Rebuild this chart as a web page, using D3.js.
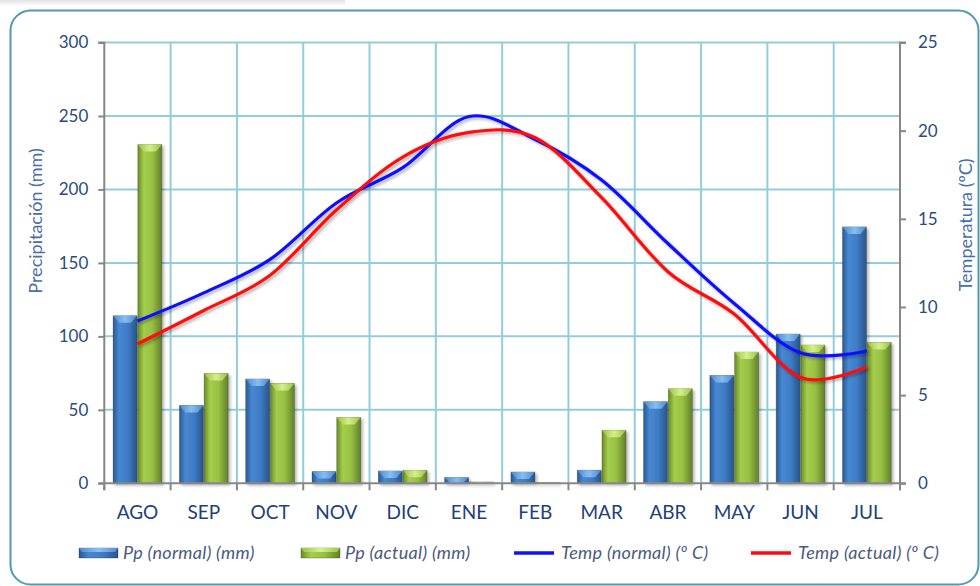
<!DOCTYPE html>
<html>
<head>
<meta charset="utf-8">
<script src="https://cdn.jsdelivr.net/npm/d3@7/dist/d3.min.js"></script>
<style>
  html, body { margin: 0; padding: 0; background: #ffffff; }
  svg { display: block; }
  text { font-family: Lato, "Open Sans", "Liberation Sans", sans-serif; }
</style>
</head>
<body>
<svg id="chart" width="980" height="586"></svg>
<script>
// ---- data ----
const months = ["AGO","SEP","OCT","NOV","DIC","ENE","FEB","MAR","ABR","MAY","JUN","JUL"];
const ppNormal = [114, 53, 71, 8, 8.4, 3.9, 7.7, 8.9, 55.5, 73.4, 101.6, 174.5];
const ppActual = [230.5, 74.8, 68, 44.8, 8.9, 0.9, 0.4, 36.1, 64.3, 89.3, 94.1, 95.9];
const tempNormal = [9.2, 10.8, 12.7, 15.9, 17.9, 20.8, 19.5, 17.2, 13.6, 10.2, 7.4, 7.5];
const tempActual = [7.9, 9.8, 11.8, 15.5, 18.5, 19.9, 19.6, 16.2, 12.0, 9.6, 6.0, 6.6];
const ppTicks = [0, 50, 100, 150, 200, 250, 300];
const tTicks = [0, 5, 10, 15, 20, 25];
const legendLabels = ["Pp (normal) (mm)", "Pp (actual) (mm)", "Temp (normal) (º C)", "Temp (actual) (º C)"];
const yTitleLeft = "Precipitación (mm)";
const yTitleRight = "Temperatura (ºC)";

// ---- layout ----
const svg = d3.select("#chart");
const L = 104.3, R = 900, T = 42.5, B = 483.3;
const textCol = "#2b4a80";
const gridCol = "#92cddc";
const axisCol = "#878787";

const defs = svg.append("defs");
function hGrad(id, stops) {
  const g = defs.append("linearGradient").attr("id", id).attr("x1", 0).attr("x2", 1).attr("y1", 0).attr("y2", 0);
  stops.forEach(s => g.append("stop").attr("offset", s[0]).attr("stop-color", s[1]));
}
hGrad("gBlue", [[0,"#2a5894"],[0.25,"#4788d2"],[0.6,"#3f7dc6"],[1,"#28548c"]]);
hGrad("gGreen", [[0,"#6a8a28"],[0.25,"#a5cd4c"],[0.6,"#98c042"],[1,"#61802a"]]);
hGrad("gBlueCap", [[0,"#4f8bd0"],[0.5,"#8cc0f4"],[1,"#4f8bd0"]]);
hGrad("gGreenCap", [[0,"#9cc443"],[0.5,"#d8f08e"],[1,"#9cc443"]]);
const sg = defs.append("linearGradient").attr("id", "gStrip").attr("x1", 0).attr("x2", 0).attr("y1", 0).attr("y2", 1);
sg.append("stop").attr("offset", 0).attr("stop-color", "#e2e2e2");
sg.append("stop").attr("offset", 1).attr("stop-color", "#ffffff");
const f = defs.append("filter").attr("id", "shadow").attr("x", "-20%").attr("y", "-20%").attr("width", "150%").attr("height", "150%");
f.append("feDropShadow").attr("dx", 2).attr("dy", 2).attr("stdDeviation", 1.5).attr("flood-color", "#000").attr("flood-opacity", 0.3);

// faint shadow strip and frame
svg.append("rect").attr("x", 0).attr("y", 0).attr("width", 345).attr("height", 6).attr("fill", "url(#gStrip)");
svg.append("rect").attr("x", 10.5).attr("y", 10.5).attr("width", 968).attr("height", 574).attr("rx", 20)
  .attr("fill", "#fff").attr("stroke", "#4f9bb0").attr("stroke-width", 2);

// ---- scales ----
const x = d3.scaleBand().domain(months).range([L, R]).paddingInner(0).paddingOuter(0);
const xs = d3.scaleBand().domain(["n","a"]).range([0, x.bandwidth()]).paddingInner(0.03).paddingOuter(0.355);
const yP = d3.scaleLinear().domain([0, 300]).range([B, T]);
const yT = d3.scaleLinear().domain([0, 25]).range([B, T]);

// ---- gridlines ----
const grid = svg.append("g");
grid.selectAll("line.h").data(ppTicks.filter(d => d > 0)).join("line")
  .attr("x1", L).attr("x2", R).attr("y1", d => yP(d)).attr("y2", d => yP(d))
  .attr("stroke", gridCol).attr("stroke-width", 2);
grid.selectAll("line.v").data(months.slice(1)).join("line")
  .attr("x1", d => x(d)).attr("x2", d => x(d)).attr("y1", T).attr("y2", B)
  .attr("stroke", gridCol).attr("stroke-width", 2);

// ---- bars ----
function drawBars(vals, key, fillId, capId) {
  const g = svg.append("g").attr("filter", "url(#shadow)");
  const w = xs.bandwidth();
  const data = vals.map((v, i) => ({ m: months[i], v }));
  g.selectAll("rect").data(data).join("rect")
    .attr("x", d => x(d.m) + xs(key)).attr("y", d => yP(d.v))
    .attr("width", w).attr("height", d => B - yP(d.v))
    .attr("fill", `url(#${fillId})`).attr("stroke", "rgba(40,50,30,0.45)").attr("stroke-width", 0.6);
  g.selectAll("path").data(data).join("path")
    .attr("d", d => {
      const x0 = x(d.m) + xs(key), y0 = yP(d.v), h = Math.min(7, B - y0);
      const inset = Math.min(6, h);
      return `M${x0},${y0}L${x0 + w},${y0}L${x0 + w - inset},${y0 + h}L${x0 + inset},${y0 + h}Z`;
    })
    .attr("fill", `url(#${capId})`).attr("opacity", 0.95);
}
drawBars(ppNormal, "n", "gBlue", "gBlueCap");
drawBars(ppActual, "a", "gGreen", "gGreenCap");

// ---- axes ----
const axL = svg.append("g").attr("transform", `translate(${L},0)`)
  .call(d3.axisLeft(yP).tickValues(ppTicks).tickSize(6).tickPadding(10));
const axR = svg.append("g").attr("transform", `translate(${R},0)`)
  .call(d3.axisRight(yT).tickValues(tTicks).tickSize(6).tickPadding(12));
const axB = svg.append("g").attr("transform", `translate(0,${B})`)
  .call(d3.axisBottom(x).tickSize(0).tickPadding(22));
axB.selectAll(".tick").append("line").attr("x1", -x.bandwidth()/2).attr("x2", -x.bandwidth()/2).attr("y1", 0).attr("y2", 7).attr("stroke", axisCol).attr("stroke-width", 2);
axB.append("line").attr("x1", R).attr("x2", R).attr("y1", 0).attr("y2", 7).attr("stroke", axisCol).attr("stroke-width", 2);
[axL, axR, axB].forEach(a => {
  a.select(".domain").attr("stroke", axisCol).attr("stroke-width", 2);
  a.selectAll(".tick line").attr("stroke", axisCol).attr("stroke-width", 2);
  a.selectAll("text").attr("fill", textCol).attr("font-size", 17);
});
axB.select(".domain").attr("d", `M${L-6},0H${R+6}`);
axL.select(".domain").attr("d", `M-6,${T}H0V${B+7}`);
axR.select(".domain").attr("d", `M6,${T}H0V${B+7}`);
axB.selectAll("text").attr("font-size", 19).attr("fill", "#22407a");

// axis titles
svg.append("text").attr("transform", `translate(42,${(T+B)/2 - 42}) rotate(-90)`)
  .attr("text-anchor", "middle").attr("fill", "#4a6ea8").attr("font-size", 18).text(yTitleLeft);
svg.append("text").attr("transform", `translate(972,${(T+B)/2 - 38}) rotate(-90)`)
  .attr("text-anchor", "middle").attr("fill", "#4a6ea8").attr("font-size", 18).text(yTitleRight);

// ---- lines ----
const lineGen = d3.line().curve(d3.curveCardinal.tension(0))
  .x((d, i) => x(months[i]) + x.bandwidth()/2).y(d => yT(d));
const lg = svg.append("g").attr("filter", "url(#shadow)");
lg.append("path").attr("d", lineGen(tempNormal)).attr("fill", "none").attr("stroke", "#1010ff").attr("stroke-width", 3.2);
lg.append("path").attr("d", lineGen(tempActual)).attr("fill", "none").attr("stroke", "#ff0a0a").attr("stroke-width", 3.2);

// ---- legend ----
const legX = [79, 301, 514, 751];
const leg = svg.append("g");
const legY = 553;
legendLabels.forEach((lab, i) => {
  const gx = legX[i];
  if (i < 2) {
    leg.append("rect").attr("x", gx).attr("y", legY - 5).attr("width", 39).attr("height", 10)
      .attr("fill", i === 0 ? "url(#gBlue)" : "url(#gGreen)").attr("stroke", "rgba(40,50,30,0.5)").attr("stroke-width", 0.6);
    leg.append("path").attr("d", `M${gx},${legY-5}H${gx+39}L${gx+36},${legY-1}H${gx+3}Z`)
      .attr("fill", i === 0 ? "url(#gBlueCap)" : "url(#gGreenCap)");
  } else {
    leg.append("line").attr("x1", gx).attr("x2", gx + 40).attr("y1", legY).attr("y2", legY)
      .attr("stroke", i === 2 ? "#1010ff" : "#ff0a0a").attr("stroke-width", 3.5);
  }
  leg.append("text").attr("x", gx + (i < 2 ? 44 : 47)).attr("y", legY + 6).attr("fill", "#4a5a7e")
    .attr("font-size", 18).attr("font-style", "italic").attr("letter-spacing", 0.3).text(lab);
});
</script>
</body>
</html>
